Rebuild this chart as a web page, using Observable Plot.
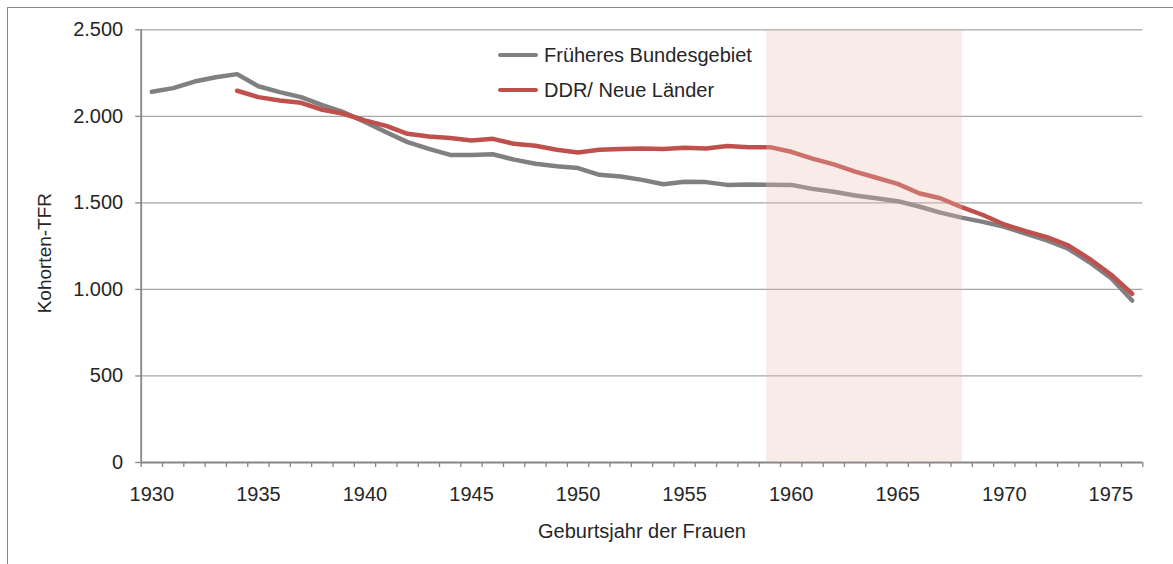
<!DOCTYPE html>
<html><head><meta charset="utf-8">
<script src="https://cdn.jsdelivr.net/npm/d3@7"></script>
<script src="https://cdn.jsdelivr.net/npm/@observablehq/plot@0.6"></script>
<style>
body{margin:0;background:#fff;overflow:hidden;font-family:"Liberation Sans",Arial,sans-serif;}
#wrap{position:relative;width:1173px;height:564px;overflow:hidden;}
#frame{position:absolute;left:7px;top:7px;width:1200px;height:600px;border:1.3px solid #8a8a8a;box-sizing:border-box;pointer-events:none;}
#chart{position:absolute;left:0;top:0;}
#legend{position:absolute;left:498px;top:37.5px;font-size:20px;color:#262626;}
.item{display:flex;align-items:center;height:35px;white-space:nowrap;}
.sw{width:40px;height:0;border-top:4.5px solid;margin-right:6px;border-radius:2px;}
</style></head>
<body><div id="wrap"><div id="frame"></div><div id="chart"></div><div id="legend"></div></div>
<script>
const years = [1930,1931,1932,1933,1934,1935,1936,1937,1938,1939,1940,1941,1942,1943,1944,1945,1946,1947,1948,1949,1950,1951,1952,1953,1954,1955,1956,1957,1958,1959,1960,1961,1962,1963,1964,1965,1966,1967,1968,1969,1970,1971,1972,1973,1974,1975,1976];
const seriesNames = ["Früheres Bundesgebiet", "DDR/ Neue Länder"];
const seriesColors = ["#808080", "#C0504D"];
const westValues = [2142,2163,2201,2226,2244,2174,2140,2111,2065,2024,1968,1908,1851,1812,1777,1776,1781,1750,1726,1712,1701,1662,1652,1633,1608,1622,1620,1604,1606,1605,1604,1581,1564,1543,1527,1510,1479,1444,1415,1390,1362,1322,1283,1235,1157,1067,936];
const eastValues = [null,null,null,null,2148,2111,2092,2078,2038,2015,1976,1945,1899,1884,1875,1860,1870,1841,1830,1807,1791,1807,1811,1814,1811,1818,1814,1828,1822,1822,1795,1756,1722,1681,1645,1610,1556,1527,1475,1430,1375,1337,1302,1254,1177,1086,975];
const yTicks = [0,500,1000,1500,2000,2500];
const xLabelYears = [1930,1935,1940,1945,1950,1955,1960,1965,1970,1975];
const highlightPeriod = [1958.85, 1968.04];
const yTitle = "Kohorten-TFR";
const xTitle = "Geburtsjahr der Frauen";

const rows = [];
[westValues, eastValues].forEach((vals, i) => {
  years.forEach((yr, j) => rows.push({year: yr, value: vals[j], series: seriesNames[i]}));
});
const bounds = [years[0] - 0.5, ...years.map(y => y + 0.5)];
const fmt = d3.formatLocale({decimal: ",", thousands: ".", grouping: [3], currency: ["", "€"]}).format(",");

const chart = Plot.plot({
  width: 1173, height: 564,
  marginLeft: 140.7, marginRight: 30.7, marginTop: 29.3, marginBottom: 102,
  style: {fontFamily: "'Liberation Sans', Arial, sans-serif", fontSize: "20px", color: "#262626", background: "transparent"},
  x: {domain: [bounds[0], bounds[bounds.length - 1]]},
  y: {domain: [0, 2500]},
  color: {domain: seriesNames, range: seriesColors},
  marks: [
    Plot.gridY(yTicks.slice(1), {stroke: "#a6a6a6", strokeOpacity: 1, strokeWidth: 1.3}),
    Plot.lineY(rows, {x: "year", y: "value", z: "series", stroke: "series", strokeWidth: 4.5, strokeLinejoin: "round", strokeLinecap: "round"}),
    Plot.ruleX([bounds[0]], {stroke: "#868686", strokeWidth: 1.8}),
    Plot.ruleY([0], {stroke: "#868686", strokeWidth: 1.8}),
    Plot.rect([highlightPeriod], {x1: d => d[0], x2: d => d[1], y1: 0, y2: 2500, fill: "#ebc0b2", fillOpacity: 0.3}),
    Plot.axisY({ticks: yTicks, tickFormat: fmt, tickSize: 5.5, tickPadding: 12.5, label: null, stroke: "#868686", strokeWidth: 1.3}),
    Plot.axisX({ticks: bounds, tickSize: 5, tickFormat: () => "", label: null, stroke: "#868686", strokeWidth: 1.3}),
    Plot.axisX({ticks: xLabelYears, tickSize: 0, tickPadding: 24, tickFormat: d => String(d), label: null}),
    Plot.text([xTitle], {frameAnchor: "bottom", dy: 69, textAnchor: "middle", lineAnchor: "middle", fontSize: 20, fill: "#262626"}),
    Plot.text([yTitle], {frameAnchor: "left", rotate: -90, dx: -96, dy: 7, textAnchor: "middle", lineAnchor: "middle", fontSize: 19, fill: "#262626"})
  ]
});
document.getElementById("chart").appendChild(chart);

const legend = document.getElementById("legend");
seriesNames.forEach((name, i) => {
  const item = document.createElement("div");
  item.className = "item";
  const sw = document.createElement("span");
  sw.className = "sw";
  sw.style.borderTopColor = seriesColors[i];
  const t = document.createElement("span");
  t.textContent = name;
  item.appendChild(sw); item.appendChild(t);
  legend.appendChild(item);
});
</script>
</body></html>
